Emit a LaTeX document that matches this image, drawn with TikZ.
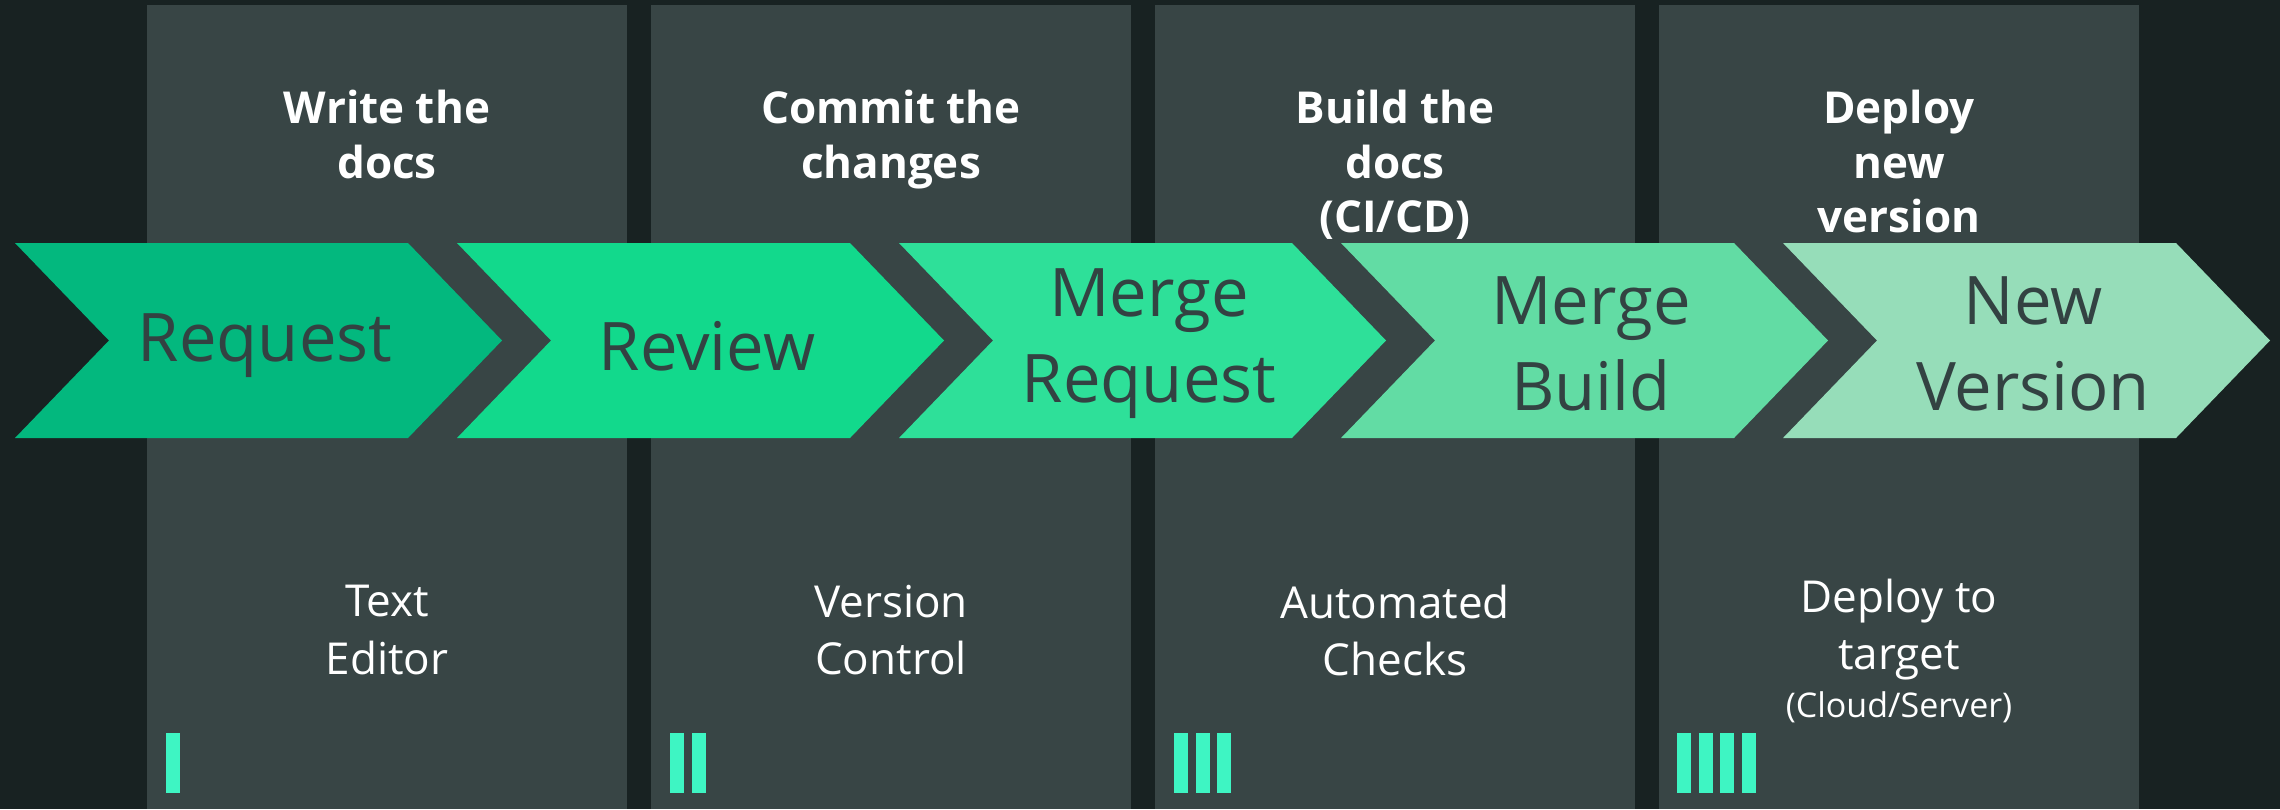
\documentclass[tikz,border=0pt]{standalone}
\usepackage{fontspec}
\setmainfont{Open Sans}
\definecolor{bgdark}{HTML}{182222}
\definecolor{colgray}{HTML}{384545}
\definecolor{cA}{HTML}{03B87E}
\definecolor{cB}{HTML}{12D98C}
\definecolor{cC}{HTML}{2EE099}
\definecolor{cD}{HTML}{62DCA4}
\definecolor{cE}{HTML}{96DDB9}
\definecolor{arrowtext}{HTML}{334242}
\definecolor{barcol}{HTML}{3EF5C3}
\tikzset{
  colbox/.style={fill=colgray},
  chevtext/.style={text=arrowtext, align=center, inner sep=0pt,
    font=\fontsize{33.5pt}{43pt}\selectfont},
  toplabel/.style={text=white, align=center, anchor=north, inner sep=0pt,
    font=\fontsize{22pt}{27.25pt}\selectfont\bfseries},
  botlabel/.style={text=white, align=center, inner sep=0pt,
    font=\fontsize{22pt}{28.5pt}\selectfont},
  smalllabel/.style={text=white, align=center, inner sep=0pt,
    font=\fontsize{17pt}{20pt}\selectfont},
  barmark/.style={fill=barcol}
}
\newcommand{\chevron}[2]{%
  \fill[#2] (#1,243) -- ({#1+393},243) -- ({#1+487},340.5) -- ({#1+393},438)
    -- (#1,438) -- ({#1+94},340.5) -- cycle;}
\begin{document}
\begin{tikzpicture}[x=0.5pt,y=-0.5pt]
\fill[bgdark] (0,0) rectangle (2280,809);
\useasboundingbox (0,0) rectangle (2280,809);
% columns
\foreach \cx in {147,651,1155,1659} {
  \fill[colbox] (\cx,5) rectangle ({\cx+480},809);
}
% chevrons
\chevron{15}{cA}
\chevron{457}{cB}
\chevron{899}{cC}
\chevron{1341}{cD}
\chevron{1783}{cE}
% chevron labels
\node[chevtext] (req) at (265,346) {Request};
\node[chevtext] (rev) at (707,346) {Review};
\node[chevtext] (mreq) at (1149,344) {Merge\\Request};
\node[chevtext] (mbuild) at (1591,344) {Merge\\Build};
\node[chevtext] (newv) at (2033,344) {New\\Version};
% top labels
\node[toplabel] (t1) at (387,90) {Write the\\docs};
\node[toplabel] (t2) at (891,90) {Commit the\\changes};
\node[toplabel] (t3) at (1395,90) {Build the\\docs\\(CI/CD)};
\node[toplabel] (t4) at (1899,90) {Deploy\\new\\version};
% bottom labels
\node[botlabel] (b1) at (387,630) {Text\\Editor};
\node[botlabel] (b2) at (891,630) {Version\\Control};
\node[botlabel] (b3) at (1395,630) {Automated\\Checks};
\node[botlabel] (b4) at (1899,630) {Deploy to\\target};
\node[smalllabel] (b4s) at (1899,707) {(Cloud/Server)};
% bars
\fill[barmark] (166,733) rectangle (180,793);
\foreach \i in {0,1} {\fill[barmark] ({670+22*\i},733) rectangle ({684+22*\i},793);}
\foreach \i in {0,1,2} {\fill[barmark] ({1174+21.5*\i},733) rectangle ({1188+21.5*\i},793);}
\foreach \i in {0,1,2,3} {\fill[barmark] ({1677+21.5*\i},733) rectangle ({1691+21.5*\i},793);}
\end{tikzpicture}
\end{document}
